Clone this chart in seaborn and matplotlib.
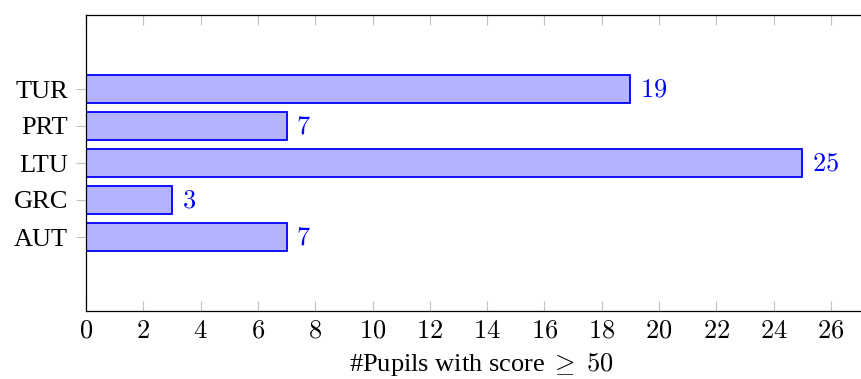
import matplotlib
matplotlib.use("Agg")
import matplotlib.pyplot as plt
import seaborn as sns
import pandas as pd

countries = ["TUR", "PRT", "LTU", "GRC", "AUT"]
pupils = [19, 7, 25, 3, 7]
xticks = [0, 2, 4, 6, 8, 10, 12, 14, 16, 18, 20, 22, 24, 26]

sns.set_theme(style="white")
plt.rcParams['font.family'] = ['Liberation Serif', 'DejaVu Serif']
plt.rcParams['mathtext.fontset'] = 'cm'
plt.rcParams['text.color'] = 'black'
plt.rcParams['xtick.labelcolor'] = 'black'
plt.rcParams['ytick.labelcolor'] = 'black'
plt.rcParams['axes.labelcolor'] = 'black'

df = pd.DataFrame({"country": countries, "pupils": pupils})

fig = plt.figure(figsize=(8.61, 3.79), dpi=100)
ax = fig.add_axes([86/861, 1 - 311/379, 1 - 86/861, (311 - 15)/379])

sns.barplot(data=df, x="pupils", y="country", order=countries, orient="h",
            color="#b3b3ff", edgecolor="#0000ff", linewidth=1.3,
            width=0.73, saturation=1, ax=ax)
for p in ax.patches:
    p.set_facecolor("#b3b3ff")
    p.set_edgecolor("#0000ff")

ax.set_xlim(0, 27.05)
ax.set_ylim(6, -2)

for i, v in enumerate(pupils):
    ax.annotate(f"${v}$", xy=(v, i), xytext=(7, -1), textcoords="offset points",
                va="center", ha="left", color="#0000ff", fontsize=19)

ax.set_xticks(xticks)
ax.set_xticklabels([f"${t}$" for t in xticks], fontsize=19)
ax.tick_params(axis='x', direction='in', length=7, width=0.8, color='#c0c0c0',
               top=True, bottom=True, pad=7, labelcolor='black')
ax.tick_params(axis='y', direction='out', length=7, width=0.8, color='#c0c0c0',
               left=True, labelsize=19, pad=6, labelcolor='black')
ax.set_ylabel("")
ax.set_xlabel(r"#Pupils with score$\;\geq\;50$", fontsize=19, va="center", color='black')
ax.xaxis.set_label_coords((481 - 86) / 775, -(365 - 311) / 296)

for s in ["left", "bottom", "top"]:
    ax.spines[s].set_visible(True)
    ax.spines[s].set_color("black")
    ax.spines[s].set_linewidth(0.9)
ax.spines["right"].set_visible(False)

fig.savefig("out.png", dpi=100)
